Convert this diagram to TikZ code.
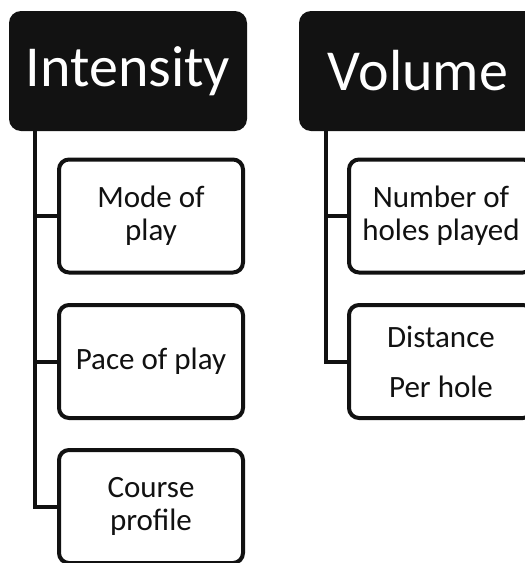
\documentclass[tikz,border=0pt]{standalone}
\usepackage{fontspec}
\setmainfont{Carlito}
\definecolor{hdr}{HTML}{121212}
\definecolor{ink}{HTML}{111111}
\begin{document}
\begin{tikzpicture}[x=1pt,y=-1pt,
  header/.style={fill=hdr, draw=none, rounded corners=12pt, minimum width=238pt, minimum height=120pt, inner sep=0pt, text=white, font=\fontsize{58}{60}\selectfont},
  item/.style={draw=ink, line width=4pt, fill=white, rounded corners=10pt, minimum width=184pt, minimum height=113pt, inner sep=0pt, align=center, text=ink, font=\fontsize{31}{33}\selectfont},
  link/.style={draw=ink, line width=4pt, line join=miter}
]
\useasboundingbox (0,0) rectangle (525,563);
% Intensity column
\node[header] (int) at (128,71) {Intensity};
\node[item] (mode) at (151,216) {Mode of\\play};
\node[item] (pace) at (151,361.5) {Pace of play};
\node[item] (course) at (151,506.5) {Course\\profile};
\coordinate (intb) at (35,131);
% Volume column
\node[header] (vol) at (418,71) {Volume};
\node[item] (holes) at (441,216) {Number of\\holes played};
\node[item] (dist) at (441,361.5) {Distance\\[17pt]Per hole};
\coordinate (volb) at (325.5,131);
% connectors
\draw[link] (intb) |- (course.west);
\draw[link] (intb) |- (mode.west);
\draw[link] (intb) |- (pace.west);
\draw[link] (volb) |- (dist.west);
\draw[link] (volb) |- (holes.west);
\end{tikzpicture}
\end{document}
